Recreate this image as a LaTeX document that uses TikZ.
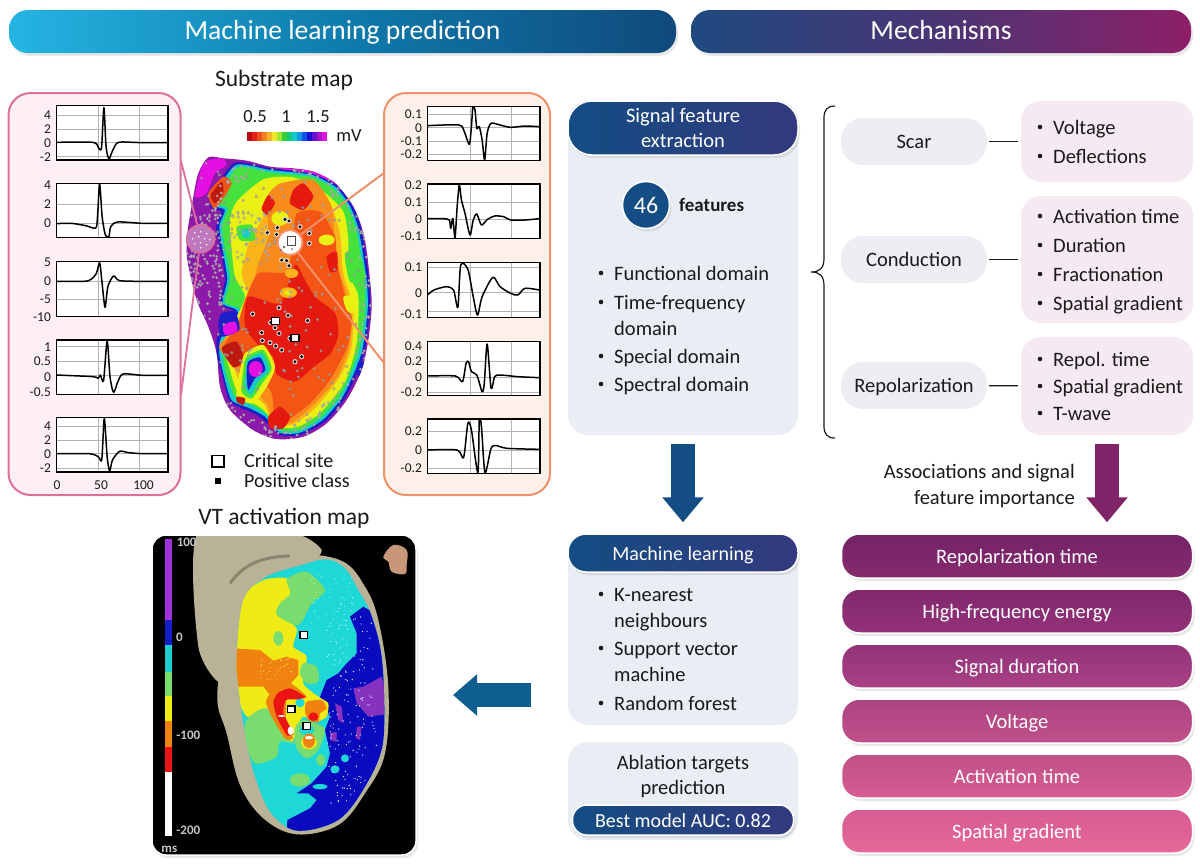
\documentclass[tikz,border=0pt]{standalone}
\usepackage{fontspec}
\setmainfont{Carlito}
\usetikzlibrary{shadows,arrows.meta,calc}
\definecolor{ink}{HTML}{1A1A1A}
\definecolor{hA1}{HTML}{25B4E2}
\definecolor{hA2}{HTML}{0E7CAC}
\definecolor{hA3}{HTML}{10497C}
\definecolor{hB1}{HTML}{1F4A80}
\definecolor{hB2}{HTML}{4A3574}
\definecolor{hB3}{HTML}{8E1F68}
\definecolor{blu}{HTML}{134D83}
\definecolor{blu2}{HTML}{34397E}
\definecolor{pur}{HTML}{7F2468}
\definecolor{teal}{HTML}{0E5F90}
\definecolor{paleblue}{HTML}{E9EEF5}
\definecolor{palepink}{HTML}{F6EAF2}
\definecolor{palegrey}{HTML}{EFEDF3}
\definecolor{lpanel}{HTML}{FDEFF4}
\definecolor{lborder}{HTML}{DD6F9C}
\definecolor{rpanel}{HTML}{FDF0E9}
\definecolor{rborder}{HTML}{EF9068}
% substrate map palette
\definecolor{mPur}{HTML}{8C19AA}
\definecolor{mMag}{HTML}{E60FE1}
\definecolor{mBlu}{HTML}{1E1EC8}
\definecolor{mCya}{HTML}{14CDC8}
\definecolor{mGrn}{HTML}{46E13C}
\definecolor{mYel}{HTML}{EBF014}
\definecolor{mAmb}{HTML}{FAB419}
\definecolor{mOra}{HTML}{F98A1C}
\definecolor{mOrR}{HTML}{F55514}
\definecolor{mRed}{HTML}{E4190F}
\definecolor{mDrk}{HTML}{BE190F}
\definecolor{mSpot}{HTML}{BE78BE}
% VT map palette
\definecolor{vBei}{HTML}{B9B296}
\definecolor{vCya}{HTML}{1ED7D7}
\definecolor{vBlu}{HTML}{0A0ABE}
\definecolor{vPur}{HTML}{8732BE}
\definecolor{vYel}{HTML}{F0EB14}
\definecolor{vGrn}{HTML}{78DC6E}
\definecolor{vOra}{HTML}{F0820F}
\definecolor{vRed}{HTML}{EB1414}
\definecolor{vBarP}{HTML}{A032DC}
\definecolor{vBarB}{HTML}{141EC8}
\definecolor{vBarC}{HTML}{23CDCD}
\definecolor{vSkin}{HTML}{C89678}
% result bars
\definecolor{ra}{HTML}{742268}\definecolor{rb}{HTML}{862C6E}
\definecolor{rc}{HTML}{80286C}\definecolor{rd}{HTML}{94327A}
\definecolor{re}{HTML}{92347A}\definecolor{rf}{HTML}{AA4084}
\definecolor{rg}{HTML}{AC4482}\definecolor{rh}{HTML}{C0508B}
\definecolor{ri}{HTML}{BE5087}\definecolor{rj}{HTML}{D85C92}
\definecolor{rk}{HTML}{D85C93}\definecolor{rl}{HTML}{E56898}
\pgfdeclarehorizontalshading{hdrA}{100bp}{color(0bp)=(hA1);color(25bp)=(hA1);color(50bp)=(hA2);color(75bp)=(hA3);color(100bp)=(hA3)}
\pgfdeclarehorizontalshading{hdrB}{100bp}{color(0bp)=(hB1);color(25bp)=(hB1);color(50bp)=(hB2);color(75bp)=(hB3);color(100bp)=(hB3)}
\newcommand{\fs}[1]{\fontsize{#1}{#1}\selectfont}
\newcommand{\blob}[2]{\fill[#1] plot[smooth cycle,tension=.4] coordinates {#2};}
\tikzset{
 softshadow/.style={drop shadow={opacity=.18,shadow xshift=2pt,shadow yshift=-3pt}},
 hdr/.style={rounded corners=19pt,minimum height=43pt,inner sep=0pt,text=white,font=\fs{27.6},text height=21pt,text depth=5pt},
 bluehead/.style={rounded corners=18pt,left color=blu,right color=blu2,draw=white,line width=1.5pt,text=white,inner sep=0pt,font=\fs{20},text height=16pt,text depth=2pt,softshadow},
 softbox/.style={rounded corners=20pt,inner sep=0pt},
 bar/.style={rounded corners=18pt,draw=white,line width=1.5pt,minimum width=351pt,minimum height=44pt,inner sep=0pt,text=white,font=\fs{20.5},text height=16pt,text depth=2pt,softshadow},
 pill/.style={rounded corners=22pt,fill=palegrey,minimum width=146pt,minimum height=47pt,inner sep=0pt,text=ink,font=\fs{20.5},text height=16pt,text depth=2pt},
 label/.style={inner sep=0pt,text=ink,font=\fs{20.5}},
 title/.style={inner sep=0pt,text=ink,font=\fs{23.5},text height=18pt,text depth=3pt},
 tick/.style={inner sep=0pt,text=ink,font=\fs{13.5}},
 gridl/.style={draw=black!30,line width=.8pt},
 trace/.style={draw=black,line width=1.5pt,line join=round},
 frame/.style={draw=black,line width=1.4pt},
}
\newcounter{nn}
\newcommand{\blt}[3]{\stepcounter{nn}\fill[ink] ({#1-13},#2) circle (2.3pt);\node[label,anchor=base west] (b\thenn) at (#1,{#2+7}) {#3};}
\newcommand{\cont}[3]{\stepcounter{nn}\node[label,anchor=base west] (b\thenn) at (#1,{#2+7}) {#3};}
\newcommand{\tk}[3]{\stepcounter{nn}\node[tick,anchor=east] (t\thenn) at (#1,#2) {#3};}
\newcommand{\ecg}[7]{%
 \fill[white] (#1,#2) rectangle (#3,#4);
 \foreach \g in {#5}{\draw[gridl] (#1,\g) -- (#3,\g);}
 \foreach \g in {#6}{\draw[gridl] (\g,#2) -- (\g,#4);}
 \begin{scope}\clip (#1,#2) rectangle (#3,#4);
 \draw[trace] plot[smooth,tension=.45] coordinates {#7};
 \end{scope}
 \draw[frame] (#1,#2) rectangle (#3,#4);}
\begin{document}
\begin{tikzpicture}[x=1pt,y=-1pt]
\useasboundingbox (0,0) rectangle (1200,863);
\fill[white] (0,0) rectangle (1200,863);

% headers
\node[hdr,shade,shading=hdrA,minimum width=667pt,softshadow] (h1) at (342.5,31.5) {Machine learning prediction};
\node[hdr,shade,shading=hdrB,minimum width=500pt,softshadow] (h2) at (941,31.5) {Mechanisms};

\node[title] (tsub) at (284,79) {Substrate map};
\node[title] (tvt) at (284,517) {VT activation map};

% panels
\node[draw=lborder,fill=lpanel,line width=2pt,rounded corners=22pt,minimum width=172pt,minimum height=402pt] (lp) at (94.5,294) {};
\node[draw=rborder,fill=rpanel,line width=2pt,rounded corners=22pt,minimum width=166pt,minimum height=402pt] (rp) at (467,294) {};

% substrate map, in a 3x frame
\begin{scope}[x=.33333pt,y=-.33333pt,shift={(180pt,-140pt)}]
 \def\outl{(85,52)(130,55)(200,62)(270,80)(340,85)(400,95)(460,125)(500,170)(530,220)(555,300)(570,420)(575,500)(565,600)(545,690)(500,780)(440,850)(370,890)(290,897)(220,870)(150,810)(120,740)(110,640)(85,560)(50,480)(22,360)(22,280)(40,170)(55,100)}
 \begin{scope}
 \clip plot[smooth cycle,tension=.5] coordinates {\outl};
 \fill[mPur] (0,0) rectangle (620,920);
 \blob{mMag}{(70,70)(125,55)(140,75)(105,100)(80,160)(45,170)}
 \blob{mMag}{(300,85)(400,95)(480,140)(520,220)(480,170)(400,120)}
 \blob{mBlu}{(105,145)(165,68)(270,85)(340,92)(400,102)(470,135)(515,190)(545,270)(567,420)(570,510)(555,630)(535,690)(495,775)(435,845)(360,885)(300,885)(250,840)(210,815)(150,785)(125,700)(110,640)(115,585)(175,565)(165,515)(120,490)(135,420)(125,350)(108,260)(125,215)(90,200)}
 \blob{mCya}{(115,145)(170,74)(270,90)(340,97)(400,106)(465,140)(508,195)(536,270)(560,420)(563,510)(548,625)(528,685)(488,770)(430,838)(360,878)(300,878)(255,830)(210,805)(155,780)(130,700)(118,640)(125,590)(180,560)(170,510)(128,490)(142,420)(132,350)(118,260)(135,210)(100,195)}
 \blob{mGrn}{(125,150)(175,82)(270,97)(340,104)(400,112)(460,146)(503,200)(530,275)(552,420)(556,510)(540,620)(520,680)(482,765)(425,830)(360,870)(302,870)(262,825)(215,795)(165,770)(138,700)(128,640)(135,597)(188,555)(178,505)(135,488)(150,420)(140,350)(126,262)(143,205)(108,190)}
 \blob{mYel}{(150,240)(170,185)(250,118)(340,112)(430,155)(490,215)(505,300)(505,400)(535,470)(530,610)(495,725)(425,815)(360,858)(302,862)(245,805)(175,760)(150,690)(130,610)(165,540)(195,470)(165,410)(155,330)}
 \blob{mAmb}{(210,300)(250,230)(265,165)(300,130)(400,122)(450,190)(480,280)(490,400)(520,500)(515,620)(480,710)(410,800)(345,850)(285,858)(250,790)(185,740)(160,680)(118,620)(165,560)(205,470)(185,400)}
 \blob{mOra}{(235,370)(265,290)(262,170)(305,130)(400,120)(455,200)(465,300)(480,400)(515,510)(508,620)(470,715)(400,795)(340,845)(285,855)(262,795)(210,735)(170,690)(118,620)(170,565)(210,470)}
 \blob{mOrR}{(195,480)(235,400)(320,395)(340,300)(350,220)(420,215)(465,290)(470,365)(495,470)(515,540)(500,625)(450,720)(390,790)(330,835)(285,840)(275,760)(230,700)(180,680)(130,625)(170,560)}
 \blob{mRed}{(205,470)(300,490)(345,375)(375,420)(405,470)(465,520)(475,585)(452,640)(402,680)(345,725)(290,702)(280,650)(240,620)(195,560)}
 \blob{mRed}{(340,150)(370,130)(400,170)(370,210)(330,190)}
 \blob{mRed}{(265,165)(285,190)(260,225)(245,205)}
 \blob{mRed}{(265,830)(300,800)(330,830)(310,865)(270,865)}
 \blob{mDrk}{(125,625)(170,605)(192,660)(160,682)}
 \blob{mRed}{(440,350)(470,335)(472,390)(450,395)}
 \blob{mOrR}{(85,160)(130,110)(155,130)(120,190)(100,205)}
 \blob{mDrk}{(92,165)(125,125)(130,160)(105,190)}
 \fill[mAmb] (325,458) ellipse (26 and 16);
 \fill[mYel] (325,458) ellipse (13 and 7);
 \fill[mYel] (440,300) ellipse (24 and 16);
 \fill[mAmb] (335,400) ellipse (20 and 14);
 \fill[mYel] (300,235) ellipse (26 and 22);
 \blob{mGrn}{(495,340)(540,345)(555,420)(510,425)}
 \blob{mYel}{(490,470)(530,470)(520,520)(500,510)}
 \blob{mGrn}{(170,260)(215,255)(225,300)(180,300)}
 \blob{mCya}{(185,270)(205,268)(210,290)(190,292)}
 % hole with rings
 \blob{mYel}{(195,640)(250,615)(285,680)(260,740)(220,790)(170,770)(180,690)}
 \blob{mGrn}{(200,650)(250,630)(275,685)(250,725)(215,775)(185,755)(190,690)}
 \blob{mCya}{(203,660)(245,640)(268,690)(235,725)(213,765)(195,740)(198,695)}
 \blob{mBlu}{(205,665)(240,652)(256,690)(225,715)(205,750)(200,705)}
 \fill[mMag] (227,687) ellipse (21 and 24);
 % bottom left purple and mottled left patch
 \blob{mPur}{(180,825)(230,825)(295,895)(225,880)}
 \blob{mBlu}{(125,520)(165,515)(178,570)(125,590)(115,550)}
 \blob{mMag}{(130,555)(165,545)(172,575)(135,585)}
 \blob{mBlu}{(535,665)(555,670)(545,710)(530,700)}
 \blob{mDrk}{(170,770)(195,775)(190,795)(170,785)}
 % small measurement dots
 \pgfmathsetseed{11}
 \foreach \i in {1,...,200}{\pgfmathsetmacro\dx{20+rnd*550}\pgfmathsetmacro\dy{55+rnd*830}
   \draw[black!45,line width=.5pt,fill=white,fill opacity=.4] (\dx,\dy) circle (3.6);}
 \foreach \i in {1,...,260}{\pgfmathsetmacro\aa{rnd*360}\pgfmathsetmacro\rr{.9+rnd*.12}
   \pgfmathsetmacro\dx{295+\rr*285*cos(\aa)}\pgfmathsetmacro\dy{470+\rr*425*sin(\aa)}
   \draw[black!40,line width=.5pt,fill=white,fill opacity=.7] (\dx,\dy) circle (3.3);}
 \foreach \i in {1,...,110}{\pgfmathsetmacro\dx{30+rnd*100}\pgfmathsetmacro\dy{220+rnd*280}
   \draw[black!40,line width=.5pt,fill=white,fill opacity=.7] (\dx,\dy) circle (3.3);}
 \foreach \i in {1,...,50}{\pgfmathsetmacro\dx{150+rnd*120}\pgfmathsetmacro\dy{210+rnd*150}
   \draw[black!40,line width=.5pt,fill=white,fill opacity=.5] (\dx,\dy) circle (3.6);}
 \end{scope}
 % positive class points
 \foreach \p in {(315,238),(327,243),(292,263),(262,278),(290,283),(360,260),(388,280),(388,310),(305,360),(320,362),(327,377),(297,503),(218,522),(324,526),(383,542),(272,548),(285,563),(297,580),(245,578),(247,602),(270,608),(287,618),(305,630),(345,665),(365,650),(330,595)}{
   \fill[black!12] \p circle (7.8); \fill[black] \p circle (5);}
 \draw[black,line width=1.3pt,fill=white] (275,532) rectangle (298,553);
 \draw[black,line width=1.3pt,fill=white] (333,583) rectangle (357,605);
\end{scope}

% colour scale
\begin{scope}
 \foreach \cc [count=\k from 0] in {B40F14,E61E14,F0501E,F58220,F5B428,F0E628,A0E632,32D232,14C878,14C8C8,1496E6,1450E6,1414D2,6414C8,AA14C8,DC14DC}
  {\definecolor{tmpc}{HTML}{\cc}\fill[tmpc] ({247+\k*5},132) rectangle ({252.2+\k*5},141);}
\end{scope}
\node[label,font=\fs{18.5}] (l05) at (255,117) {0.5};
\node[label,font=\fs{18.5}] (l1) at (286,117) {1};
\node[label,font=\fs{18.5}] (l15) at (318,117) {1.5};
\node[label,font=\fs{18.5}] (lmv) at (349,136) {mV};

% zoom circles and connectors
\coordinate (lt) at (181,161);
\coordinate (lb) at (181,395);
\coordinate (rt) at (384,173);
\coordinate (rb) at (384,363);
\node[circle,draw=lborder,line width=1.6pt,fill=mSpot,minimum size=28pt,inner sep=0pt] (cl) at (200.7,238.7) {};
\node[circle,draw=rborder,line width=2pt,fill=white!85!rpanel,minimum size=25pt,inner sep=0pt] (cr) at (290,242.5) {};
\draw[lborder,line width=1.8pt] (lt) -- (cl);
\draw[lborder,line width=1.8pt] (lb) -- (cl);
\draw[rborder,line width=2pt] (rt) -- (cr);
\draw[rborder,line width=2pt] (rb) -- (cr);
\foreach \ox/\oy in {-6/-6,0/-7,6/-5,-8/0,-2/-2,4/0,9/1,-6/5,0/4,6/6,0/9}
  \fill[white] ($(cl)+(\ox,\oy)$) circle (.9pt);
\draw[black!70,line width=1pt] (287,236) rectangle (295,245);
\fill[black!55] (284,247) circle (1.5pt) (281,250) circle (1.2pt) (292,249) circle (1pt);

% ECG panels, in the zoomed frame of the left part
\begin{scope}[x=.35714pt,y=-.33333pt,shift={(0pt,-60pt)}]
 \ecg{158}{137}{470}{300}{165,208,248,290}{275,390}{(158,247)(260,247)(275,262)(281,270)(285,255)(291,143)(297,260)(305,297)(312,280)(325,252)(340,246)(400,248)(470,248)}
 \ecg{158}{370}{470}{533}{433,490}{275,390}{(158,491)(200,490)(240,497)(268,504)(273,470)(279,372)(286,470)(295,525)(305,530)(310,500)(330,486)(400,490)(470,490)}
 \ecg{158}{605}{470}{770}{663,718}{275,390}{(158,664)(235,664)(255,658)(270,640)(279,608)(285,660)(294,742)(302,680)(318,648)(335,662)(400,664)(470,664)}
 \ecg{158}{840}{470}{1004}{860,905,946}{275,390}{(158,945)(260,950)(275,955)(281,945)(290,962)(300,843)(308,950)(318,997)(330,965)(345,942)(400,946)(470,946)}
 \ecg{158}{1073}{470}{1236}{1098,1140,1181,1225}{275,390}{(158,1181)(250,1181)(275,1190)(285,1198)(292,1075)(300,1190)(307,1233)(315,1200)(335,1174)(360,1178)(400,1181)(470,1181)}
 \ecg{1197}{140}{1512}{302}{163,203,243,282}{1317,1433}{(1197,197)(1285,195)(1300,215)(1314,253)(1320,200)(1324,140)(1330,150)(1335,205)(1342,200)(1350,240)(1357,300)(1364,220)(1375,190)(1400,195)(1430,202)(1470,198)(1510,200)}
 \ecg{1197}{372}{1512}{535}{428,478}{1317,1433}{(1197,476)(1240,476)(1258,480)(1262,505)(1268,475)(1274,533)(1280,440)(1286,375)(1292,420)(1302,460)(1316,525)(1325,480)(1335,462)(1348,495)(1365,478)(1385,468)(1410,470)(1430,480)(1470,480)(1510,476)}
 \ecg{1197}{608}{1512}{772}{622,698,755}{1317,1433}{(1197,705)(1215,690)(1250,680)(1270,690)(1282,742)(1290,615)(1310,628)(1325,710)(1337,765)(1350,710)(1380,652)(1400,680)(1430,700)(1450,705)(1470,685)(1510,690)}
 \ecg{1197}{844}{1512}{1006}{905,952,998}{1317,1433}{(1197,948)(1275,948)(1295,965)(1305,910)(1312,905)(1320,935)(1335,945)(1350,995)(1356,970)(1364,852)(1375,985)(1385,950)(1400,945)(1450,950)(1510,953)}
 \ecg{1197}{1077}{1512}{1240}{1115,1170,1226}{1317,1433}{(1197,1170)(1280,1170)(1298,1193)(1310,1090)(1320,1110)(1338,1238)(1342,1078)(1348,1100)(1358,1238)(1375,1165)(1390,1157)(1420,1165)(1510,1168)}
 \tk{143}{165}{4}\tk{143}{208}{2}\tk{143}{250}{0}\tk{143}{292}{-2}
 \tk{143}{375}{4}\tk{143}{433}{2}\tk{143}{490}{0}
 \tk{143}{608}{5}\tk{143}{663}{0}\tk{143}{718}{-5}\tk{143}{770}{-10}
 \tk{143}{860}{1}\tk{143}{905}{0.5}\tk{143}{950}{0}\tk{143}{997}{-0.5}
 \tk{143}{1098}{4}\tk{143}{1140}{2}\tk{143}{1181}{0}\tk{143}{1225}{-2}
 \tk{1182}{163}{0.1}\tk{1182}{203}{0}\tk{1182}{243}{-0.1}\tk{1182}{282}{-0.2}
 \tk{1182}{377}{0.2}\tk{1182}{428}{0.1}\tk{1182}{478}{0}\tk{1182}{528}{-0.1}
 \tk{1182}{622}{0.1}\tk{1182}{698}{0}\tk{1182}{762}{-0.1}
 \tk{1182}{858}{0.4}\tk{1182}{905}{0.2}\tk{1182}{952}{0}\tk{1182}{998}{-0.2}
 \tk{1182}{1115}{0.2}\tk{1182}{1170}{0}\tk{1182}{1226}{-0.2}
 \node[tick] (x0) at (160,1275) {0};
 \node[tick] (x50) at (283,1275) {50};
 \node[tick] (x100) at (402,1275) {100};
\end{scope}

% legend
\draw[black,line width=1.6pt,fill=white] (212,455.5) rectangle (224,467);
\fill[black] (215,478) rectangle (221,484);
\node[label,anchor=base west,font=\fs{20}] (lcs) at (244,467) {Critical site};
\node[label,anchor=base west,font=\fs{20}] (lpc) at (244,487) {Positive class};

% VT map, in a 3x frame
\node[rounded corners=14pt,fill=black,draw=white,line width=1.5pt,minimum width=264pt,minimum height=320pt,inner sep=0pt,softshadow] (vt) at (284,695) {};
\begin{scope}[x=.33333pt,y=-.33333pt,shift={(130pt,-500pt)}]
 \begin{scope}
 \clip[rounded corners=14pt] (68,108) rectangle (858,1065);
 \fill[vBei] plot[smooth cycle,tension=.4] coordinates {(205,95)(490,100)(575,150)(530,200)(420,280)(340,420)(275,550)(205,440)};
 \fill[vBei] plot[smooth cycle,tension=.6] coordinates {(520,165)(640,185)(705,260)(745,360)(775,560)(765,760)(705,880)(625,975)(500,1003)(400,955)(330,855)(290,700)(262,600)(280,450)(320,280)(385,200)};
 \draw[black!50!vBei,line width=3pt,opacity=.5] (300,250) .. controls (340,195) and (390,170) .. (480,168);
 \def\body{(515,195)(590,178)(645,205)(685,270)(722,340)(752,450)(762,580)(757,740)(705,860)(625,960)(500,992)(420,935)(372,820)(345,700)(325,560)(320,470)(340,300)(410,230)}
 \begin{scope}
 \clip plot[smooth cycle,tension=.55] coordinates {\body};
 \fill[vCya] (300,150) rectangle (800,1010);
 \fill[vBlu] (660,350) -- (700,320) -- (735,340) -- (790,500) -- (790,800) -- (640,1010) -- (470,1010) -- (472,960) -- (540,925) -- (560,900) -- (535,880) -- (500,880) -- (545,850) -- (590,800) -- (600,760) -- (585,690) -- (600,650) -- (570,590) -- (590,540) -- (625,520) -- (650,490) -- (680,460) -- (680,400) -- cycle;
 \fill[vPur] (670,565) -- (700,560) -- (755,530) -- (790,640) -- (715,650) -- (680,610) -- cycle;
 \fill[vPur] (600,700) -- (620,695) -- (620,725) -- (600,720) -- cycle;
 \fill[vPur] (615,610) -- (635,620) -- (640,670) -- (625,660) -- cycle;
 \fill[vPur] (680,680) -- (695,680) -- (690,720) -- (678,715) -- cycle;
 \fill[vCya] (645,775) circle (12);
 \fill[vCya] (570,860) ellipse (22 and 8);
 \fill[vCya] (615,808) ellipse (14 and 12);
 \fill[vYel] plot[smooth cycle,tension=.35] coordinates {(320,300)(400,240)(470,235)(480,290)(440,330)(500,385)(490,440)(530,470)(520,550)(565,590)(595,610)(590,650)(560,665)(520,650)(500,680)(490,722)(460,722)(430,680)(390,630)(350,650)(310,560)(310,420)};
 \fill[vGrn] plot[smooth cycle,tension=.45] coordinates {(470,238)(530,215)(585,270)(545,310)(505,375)(440,345)(450,310)(482,280)};
 \fill[vGrn] plot[smooth cycle,tension=.45] coordinates {(350,660)(410,625)(465,710)(510,735)(450,725)(440,770)(375,790)(345,720)};
 \fill[vGrn] plot[smooth cycle,tension=.5] coordinates {(520,490)(560,500)(565,545)(530,550)(510,520)};
 \fill[vGrn] plot[smooth cycle,tension=.5] coordinates {(495,685)(520,660)(560,672)(585,690)(565,750)(530,775)(500,745)};
 \fill[vGrn] (445,415) ellipse (15 and 22);
 \fill[vGrn] (510,840) ellipse (30 and 20);
 \fill[vGrn] (572,780) ellipse (13 and 18);
 \fill[vCya] (510,608) ellipse (14 and 14);
 \fill[vCya] (530,690) ellipse (22 and 16);
 \fill[vOra] (310,445) -- (390,450) -- (430,482) -- (470,470) -- (505,480) -- (505,525) -- (478,555) -- (420,585) -- (400,560) -- (310,560) -- cycle;
 \fill[vOra] plot[smooth cycle,tension=.4] coordinates {(408,605)(430,570)(480,550)(530,590)(510,595)(470,595)(470,680)(490,715)(465,715)(425,650)};
 \fill[vYel] (537,728) ellipse (24 and 20);
 \fill[vOra] (537,722) ellipse (18 and 22);
 \fill[vOra] plot[smooth cycle,tension=.3] coordinates {(530,605)(575,600)(590,625)(570,640)(565,668)(535,660)(525,635)};
 \fill[vRed] plot[smooth cycle,tension=.35] coordinates {(430,605)(445,578)(480,565)(525,590)(505,598)(468,600)(460,640)(490,700)(470,705)(440,650)};
 \fill[vRed] (550,650) ellipse (15 and 13);
 \fill[white] (482,692) ellipse (9 and 13);
 \fill[white] (537,713) ellipse (12 and 5);
 \fill[white] (455,648) ellipse (12 and 2.5);
 % small white points
 \pgfmathsetseed{5}
 \foreach \i in {1,...,150}{\pgfmathsetmacro\dx{590+rnd*150}\pgfmathsetmacro\dy{350+rnd*560}
   \fill[white!85!cyan] (\dx,\dy) circle (2);}
 \foreach \i in {1,...,50}{\pgfmathsetmacro\dx{540+rnd*130}\pgfmathsetmacro\dy{210+rnd*200}
   \fill[white!85!cyan] (\dx,\dy) circle (1.6);}
 \foreach \i in {1,...,35}{\pgfmathsetmacro\dx{390+rnd*100}\pgfmathsetmacro\dy{470+rnd*70}
   \fill[yellow!60!white] (\dx,\dy) circle (1.6);}
 \end{scope}
 % colour bar
 \fill[vBarP] (105,118) rectangle (125,360);
 \fill[vBarB] (105,360) rectangle (125,435);
 \fill[vBarC] (105,435) rectangle (125,515);
 \fill[vGrn] (105,515) rectangle (125,588);
 \fill[vYel] (105,588) rectangle (125,663);
 \fill[vOra] (105,663) rectangle (125,740);
 \fill[vRed] (105,740) rectangle (125,815);
 \fill[white] (105,815) rectangle (125,1008);
 \fill[vSkin] plot[smooth cycle,tension=.6] coordinates {(760,170)(790,135)(830,150)(830,195)(825,222)(785,215)(775,185)};
 \end{scope}
 \node[tick,text=black!22,font=\fs{13}\bfseries] (v100) at (170,127) {100};
 \node[tick,text=black!22,font=\fs{13}\bfseries] (v0) at (148,412) {0};
 \node[tick,text=black!22,font=\fs{13}\bfseries] (vm100) at (175,706) {-100};
 \node[tick,text=black!22,font=\fs{13}\bfseries] (vm200) at (175,992) {-200};
 \node[tick,text=black!22,font=\fs{13}\bfseries] (vms) at (118,1048) {ms};
 \draw[black,line width=1.4pt,fill=white] (510,394) rectangle (533,415);
 \draw[black,line width=1.4pt,fill=white] (472,618) rectangle (495,638);
 \draw[black,line width=1.4pt,fill=white] (519,668) rectangle (541,689);
\end{scope}

% signal feature extraction
\node[softbox,fill=paleblue,minimum width=230pt,minimum height=334pt] (sfebody) at (683,268) {};
\node[bluehead,minimum width=230pt,minimum height=54pt,rounded corners=24pt] (sfe) at (683,128) {};
\node[label,text=white,text height=16pt,text depth=2pt] (sfe1) at (683,115) {Signal feature};
\node[label,text=white,text height=16pt,text depth=2pt] (sfe2) at (683,140) {extraction};
\node[circle,fill=blu,draw=white,line width=1.5pt,minimum size=47pt,inner sep=0pt,text=white,font=\fs{24},softshadow] (n46) at (646,205) {46};
\node[label,anchor=base west,font=\fs{19}\bfseries] (nfeat) at (679,211) {features};
\blt{614}{273}{Functional domain}
\blt{614}{302}{Time-frequency}
\cont{614}{328}{domain}
\blt{614}{356}{Special domain}
\blt{614}{384}{Spectral domain}

% machine learning
\node[softbox,fill=paleblue,minimum width=230pt,minimum height=191pt] (mlbody) at (683,629.5) {};
\node[bluehead,minimum width=230pt,minimum height=38pt] (ml) at (683,553) {Machine learning};
\blt{614}{594}{K-nearest}
\cont{614}{620}{neighbours}
\blt{614}{648}{Support vector}
\cont{614}{674}{machine}
\blt{614}{703}{Random forest}

% ablation
\node[softbox,fill=paleblue,minimum width=230pt,minimum height=98pt] (abl) at (683,791) {};
\node[label,text height=16pt,text depth=2pt] (abl1) at (683,762) {Ablation targets};
\node[label,text height=16pt,text depth=2pt] (abl2) at (683,787) {prediction};
\node[bluehead,minimum width=221pt,minimum height=30pt,rounded corners=14pt] (auc) at (683,820) {Best model AUC: 0.82};

% mechanisms
\draw[ink,line width=1.2pt] (835,106) .. controls (827,106) and (824,110) .. (824,118) -- (824,258) .. controls (824,268) and (820,272) .. (811,272) .. controls (820,272) and (824,276) .. (824,286) -- (824,426) .. controls (824,434) and (827,438) .. (835,438);
\node[pill] (scar) at (914,141.5) {Scar};
\node[pill] (cond) at (914,259.5) {Conduction};
\node[pill] (repol) at (914,385.5) {Repolarization};
\node[softbox,fill=palepink,minimum width=172pt,minimum height=81pt] (bscar) at (1107,141.5) {};
\node[softbox,fill=palepink,minimum width=172pt,minimum height=127pt] (bcond) at (1107,259.5) {};
\node[softbox,fill=palepink,minimum width=172pt,minimum height=98pt] (brepol) at (1107,386) {};
\draw[ink,line width=1.2pt,shorten >=3pt,shorten <=2pt] (scar) -- (bscar);
\draw[ink,line width=1.2pt,shorten >=3pt,shorten <=2pt] (cond) -- (bcond);
\draw[ink,line width=1.2pt,shorten >=3pt,shorten <=2pt] (repol) -- (brepol);
\blt{1053}{127}{Voltage}
\blt{1053}{156}{Deflections}
\blt{1053}{216}{Activation time}
\blt{1053}{245}{Duration}
\blt{1053}{274}{Fractionation}
\blt{1053}{303}{Spatial gradient}
\blt{1053}{359}{Repol. time}
\blt{1053}{386}{Spatial gradient}
\blt{1053}{413}{T-wave}
\node[label,anchor=east,text height=16pt,text depth=2pt] (as1) at (1075,471) {Associations and signal};
\node[label,anchor=east,text height=16pt,text depth=2pt] (as2) at (1075,497) {feature importance};

% result bars
\node[bar,top color=ra,bottom color=rb] (r1) at (1017,556) {Repolarization time};
\node[bar,top color=rc,bottom color=rd] (r2) at (1017,611) {High-frequency energy};
\node[bar,top color=re,bottom color=rf] (r3) at (1017,666) {Signal duration};
\node[bar,top color=rg,bottom color=rh] (r4) at (1017,721) {Voltage};
\node[bar,top color=ri,bottom color=rj] (r5) at (1017,776) {Activation time};
\node[bar,top color=rk,bottom color=rl] (r6) at (1017,831) {Spatial gradient};

% big arrows
\coordinate (a1s) at ($(sfebody.south)+(0,9)$);
\coordinate (a1e) at ($(ml.north)+(0,-11)$);
\coordinate (a2s) at ($(brepol.south)+(0,9)$);
\coordinate (a2e) at ($(r1.north)+(90,-11)$);
\coordinate (a3s) at (531,695);
\coordinate (a3e) at (453,695);
\draw[blu,line width=24pt,-{Triangle[width=40pt,length=25pt]}] (a1s) -- (a1e);
\draw[pur,line width=24pt,-{Triangle[width=40pt,length=25pt]}] (a2s) -- (a2e);
\draw[teal,line width=24pt,-{Triangle[width=40pt,length=24pt]}] (a3s) -- (a3e);
\end{tikzpicture}
\end{document}
